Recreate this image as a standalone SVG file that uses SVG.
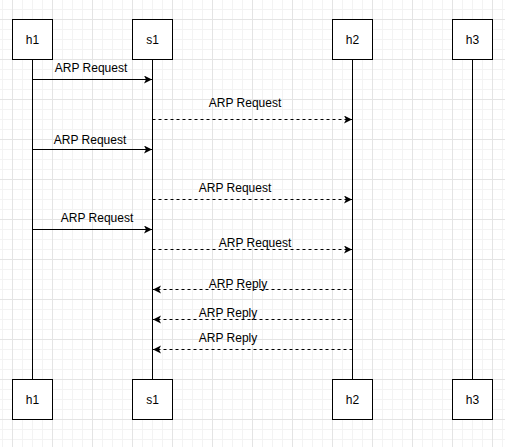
<svg xmlns="http://www.w3.org/2000/svg" width="505" height="447" viewBox="0 0 505 447">
<style>
.box{fill:#fff;stroke:#000;stroke-width:1}
.life{stroke:#000;stroke-width:1;fill:none}
.msg{stroke:#000;stroke-width:1;fill:none}
.dash{stroke-dasharray:3 3}
text{font-family:"Liberation Sans",Arial,Helvetica,sans-serif;font-size:12px;fill:#000}
.c{text-anchor:middle}
</style>
<defs>
<pattern id="grid" patternUnits="userSpaceOnUse" x="12" y="19" width="40" height="40">
<path d="M10.5 0V40M20.5 0V40M30.5 0V40M0 10.5H40M0 20.5H40M0 30.5H40" stroke="#f3f3f3" stroke-width="1"/>
<path d="M0.5 0V40M0 0.5H40" stroke="#e4e4e4" stroke-width="1"/>
</pattern>
<marker id="arr" markerWidth="10" markerHeight="10" refX="8" refY="4" orient="auto" markerUnits="userSpaceOnUse">
<path d="M0 0L8 4L0 8L2 4Z" fill="#000"/>
</marker>
</defs>
<rect width="505" height="447" fill="#fff"/>
<rect width="505" height="447" fill="url(#grid)"/>
<g id="lifelines">
<line class="life" x1="32.5" y1="59.5" x2="32.5" y2="379.5"/>
<line class="life" x1="152.5" y1="59.5" x2="152.5" y2="379.5"/>
<line class="life" x1="352.5" y1="59.5" x2="352.5" y2="379.5"/>
<line class="life" x1="472.5" y1="59.5" x2="472.5" y2="379.5"/>
</g>
<g id="connectors">
<line class="msg" x1="32.5" y1="79.5" x2="152" y2="79.5" marker-end="url(#arr)"/>
<line class="msg dash" x1="152.5" y1="119.5" x2="352" y2="119.5" marker-end="url(#arr)"/>
<line class="msg" x1="32.5" y1="149.5" x2="152" y2="149.5" marker-end="url(#arr)"/>
<line class="msg dash" x1="152.5" y1="199.5" x2="352" y2="199.5" marker-end="url(#arr)"/>
<line class="msg" x1="32.5" y1="229.5" x2="152" y2="229.5" marker-end="url(#arr)"/>
<line class="msg dash" x1="152.5" y1="249.5" x2="352" y2="249.5" marker-end="url(#arr)"/>
<line class="msg dash" x1="352.5" y1="289.5" x2="153" y2="289.5" marker-end="url(#arr)"/>
<line class="msg dash" x1="352.5" y1="319.5" x2="153" y2="319.5" marker-end="url(#arr)"/>
<line class="msg dash" x1="352.5" y1="349.5" x2="153" y2="349.5" marker-end="url(#arr)"/>
<text class="c" x="91" y="72">ARP Request</text>
<text class="c" x="245" y="107">ARP Request</text>
<text class="c" x="90" y="144">ARP Request</text>
<text class="c" x="235" y="192">ARP Request</text>
<text class="c" x="97" y="222">ARP Request</text>
<text class="c" x="255" y="247">ARP Request</text>
<text class="c" x="238" y="288">ARP Reply</text>
<text class="c" x="228" y="317">ARP Reply</text>
<text class="c" x="228" y="342">ARP Reply</text>
</g>
<g id="h1-top"><rect class="box" x="12.5" y="19.5" width="40" height="40"/><text class="c" x="32.5" y="44">h1</text></g>
<g id="s1-top"><rect class="box" x="132.5" y="19.5" width="40" height="40"/><text class="c" x="152.5" y="44">s1</text></g>
<g id="h2-top"><rect class="box" x="332.5" y="19.5" width="40" height="40"/><text class="c" x="352.5" y="44">h2</text></g>
<g id="h3-top"><rect class="box" x="452.5" y="19.5" width="40" height="40"/><text class="c" x="472.5" y="44">h3</text></g>
<g id="h1-bottom"><rect class="box" x="12.5" y="379.5" width="40" height="40"/><text class="c" x="32.5" y="404">h1</text></g>
<g id="s1-bottom"><rect class="box" x="132.5" y="379.5" width="40" height="40"/><text class="c" x="152.5" y="404">s1</text></g>
<g id="h2-bottom"><rect class="box" x="332.5" y="379.5" width="40" height="40"/><text class="c" x="352.5" y="404">h2</text></g>
<g id="h3-bottom"><rect class="box" x="452.5" y="379.5" width="40" height="40"/><text class="c" x="472.5" y="404">h3</text></g>
</svg>
